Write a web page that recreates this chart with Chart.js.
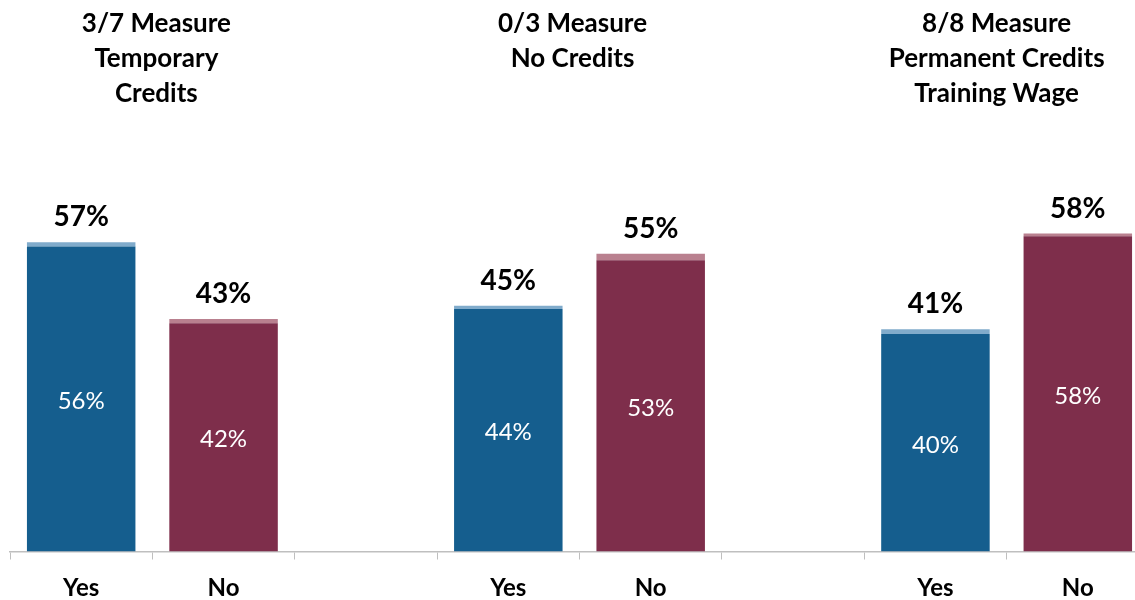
<!DOCTYPE html>
<html lang="en">
<head>
<meta charset="UTF-8" />
<title>Measure support</title>
<script src="https://cdn.jsdelivr.net/npm/chart.js@4.4.0/dist/chart.umd.min.js"></script>
<style>
  html, body { margin: 0; padding: 0; background: #fff; overflow: hidden; }
  #wrap { width: 1149px; height: 600px; }
</style>
</head>
<body>
<div id="wrap"><canvas id="chart"></canvas></div>
<script>
// categories (empty slots are the gaps between groups)
const categories = ['Yes', 'No', '', 'Yes', 'No', '', 'Yes', 'No'];
// solid part of each bar
const baseValues = [56.1, 42.0, null, 44.6, 53.6, null, 40.0, 58.0];
// thin lighter cap on top of each bar
const capValues = [0.8, 0.8, null, 0.6, 1.2, null, 0.9, 0.5];
// labels
const innerLabels = ['56%', '42%', '', '44%', '53%', '', '40%', '58%'];
const totalLabels = ['57%', '43%', '', '45%', '55%', '', '41%', '58%'];
const groupTitles = [
  ['3/7 Measure', 'Temporary', 'Credits'],
  ['0/3 Measure', 'No Credits'],
  ['8/8 Measure', 'Permanent Credits', 'Training Wage']
];

const BLUE = '#155e8e', BLUE_LIGHT = '#80abcb';
const RED = '#7e2e4b', RED_LIGHT = '#b9808f';
const FONT = 'Lato, "Open Sans", sans-serif';

const baseColors = categories.map(c => c === 'Yes' ? BLUE : RED);
const capColors = categories.map(c => c === 'Yes' ? BLUE_LIGHT : RED_LIGHT);

const titleOffsets = [4, -7, -10];

const labelPlugin = {
  id: 'labels',
  afterDatasetsDraw(chart) {
    const ctx = chart.ctx;
    const base = chart.getDatasetMeta(0).data;
    const cap = chart.getDatasetMeta(1).data;
    ctx.save();
    ctx.textAlign = 'center';
    ctx.textBaseline = 'middle';
    base.forEach((bar, i) => {
      if (baseValues[i] == null) return;
      ctx.fillStyle = '#ffffff';
      ctx.font = '24px ' + FONT;
      ctx.fillText(innerLabels[i], bar.x, (bar.y + bar.base) / 2 + 2);
      ctx.fillStyle = '#000000';
      ctx.font = 'bold 28px ' + FONT;
      ctx.fillText(totalLabels[i], bar.x, cap[i].y - 25);
    });
    // group titles
    ctx.font = 'bold 26px ' + FONT;
    groupTitles.forEach((lines, g) => {
      const a = base[g * 3].x, b = base[g * 3 + 1].x;
      const cx = (a + b) / 2 + titleOffsets[g];
      lines.forEach((t, k) => ctx.fillText(t, cx, 24 + k * 35));
    });
    ctx.restore();
  }
};

new Chart(document.getElementById('chart'), {
  type: 'bar',
  data: {
    labels: categories,
    datasets: [
      { data: baseValues, backgroundColor: baseColors, barPercentage: 0.762, categoryPercentage: 1 },
      { data: capValues, backgroundColor: capColors, barPercentage: 0.762, categoryPercentage: 1 }
    ]
  },
  options: {
    responsive: true,
    maintainAspectRatio: false,
    animation: false,
    layout: { padding: { left: 10, top: 8, right: 0, bottom: 0 } },
    plugins: { legend: { display: false }, tooltip: { enabled: false } },
    scales: {
      x: {
        stacked: true,
        grid: { offset: true, drawOnChartArea: false, tickLength: 8, color: '#bfbfbf' },
        border: { color: '#bfbfbf', width: 1.5 },
        ticks: { color: '#000', font: { family: FONT, size: 24, weight: 'bold' }, padding: 14 },
        afterFit(scale) { scale.height = 48.5; }
      },
      y: { stacked: true, display: false, min: 0, max: 100 }
    }
  },
  plugins: [labelPlugin]
});
</script>
</body>
</html>
